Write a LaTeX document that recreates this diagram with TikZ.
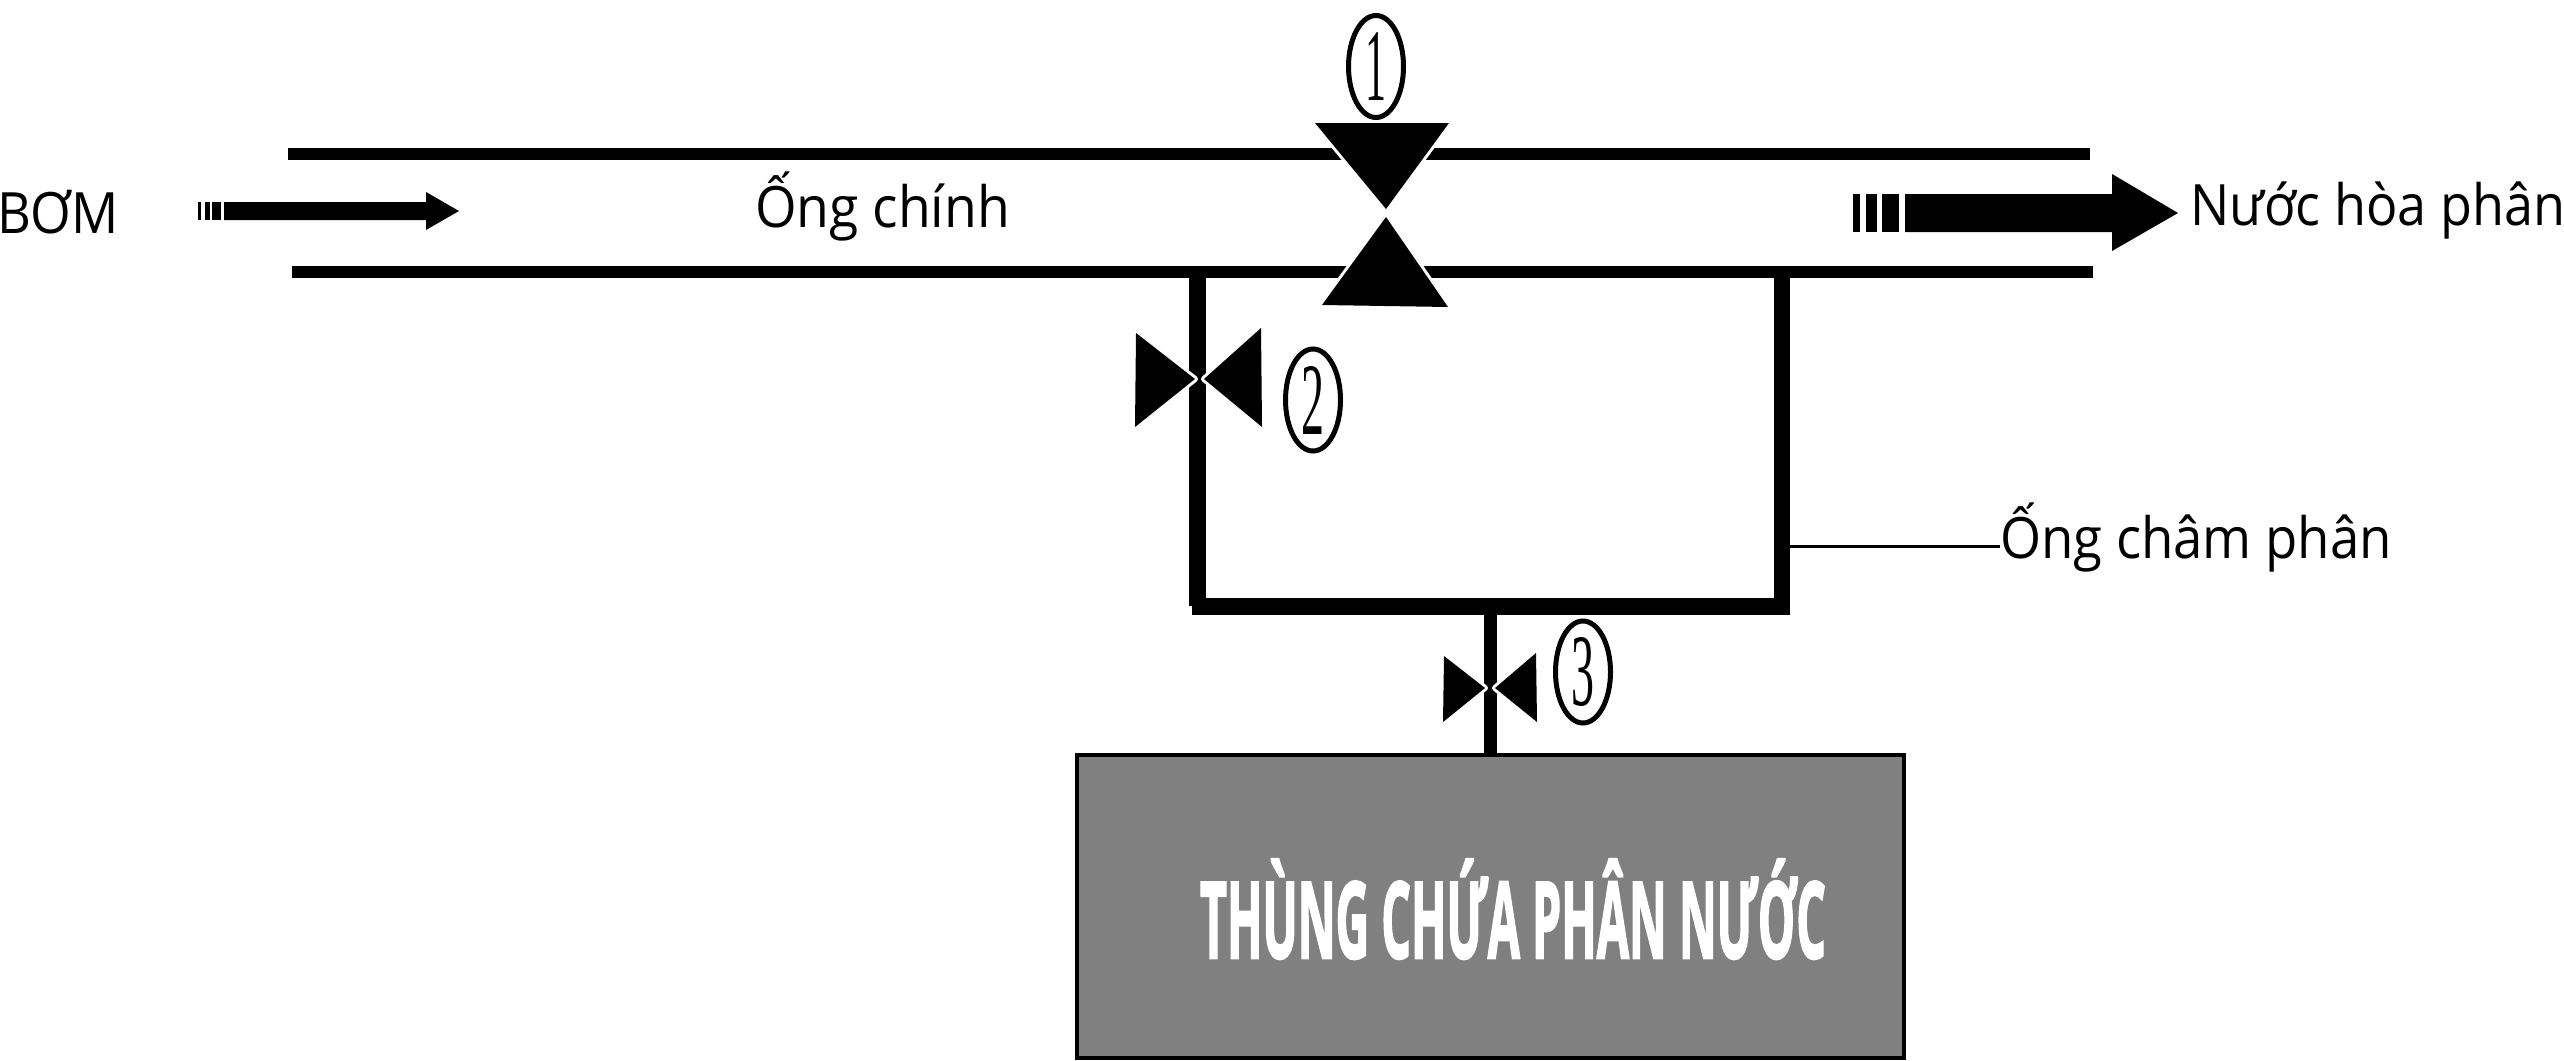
\documentclass[tikz,border=0pt]{standalone}
\usepackage{fontspec}
\usepackage{graphicx}
\setmainfont{Open Sans}
\newfontfamily\digitfont{Liberation Serif}
\newfontfamily\heavyfont[FakeBold=2.5]{Open Sans Bold}
\usetikzlibrary{shapes.geometric}
\definecolor{tankgray}{HTML}{808080}
\newcommand{\fitw}[2]{\resizebox{#1pt}{\height}{#2}}
\newcommand{\dgt}[2]{\resizebox{#1pt}{68pt}{\fontsize{100}{100}\digitfont #2}}
\tikzset{
  mainpipe/.style={line width=12.5pt,line cap=butt},
  branchpipe/.style={line width=17pt,line cap=butt},
  halotri/.style={fill=black,preaction={draw=white,line width=6pt,line join=round}},
  txt/.style={anchor=base west,inner sep=0pt,outer sep=0pt,font=\fontsize{57}{60}\selectfont},
  tanktxt/.style={anchor=base west,inner sep=0pt,outer sep=0pt,text=white,font=\fontsize{106}{110}\heavyfont},
  numoval/.style={shape=ellipse,draw=black,fill=white,line width=5pt,minimum width=55pt,minimum height=102pt,inner sep=0pt,outer sep=0pt},
  tankbox/.style={draw=black,fill=tankgray,line width=4pt,minimum width=827pt,minimum height=303pt,inner sep=0pt,outer sep=0pt,anchor=north west},
}
\begin{document}
\begin{tikzpicture}[x=1pt,y=-1pt]
\useasboundingbox (0,0) rectangle (2564,1060);
% named anchor points
\coordinate (topL) at (288,154);
\coordinate (topR) at (2090,154);
\coordinate (botL) at (292,272);
\coordinate (botR) at (2093,272);
\coordinate (jL) at (1197,272);
\coordinate (jLb) at (1197,606);
\coordinate (jR) at (1782,272);
\coordinate (jRb) at (1782,615);
\coordinate (hL) at (1192,606);
\coordinate (hR) at (1790,606);
\coordinate (stemT) at (1490,606);
\coordinate (leadS) at (1790,546);
% pipes
\draw[mainpipe] (topL) -- (topR);
\draw[mainpipe] (botL) -- (botR);
\draw[line width=17pt] (jL) -- (jLb);
\draw[line width=16pt] (jR) -- (jRb);
\draw[branchpipe] (hL) -- (hR);
% tank
\node[tankbox] (tank) at (1077,755) {};
\draw[line width=13pt] (stemT) -- (stemT |- tank.north);
% valve 1
\path[halotri] (1315,123) -- (1449,123) -- (1386,209) -- cycle;
\path[halotri] (1386,217) -- (1448,307) -- (1322,305) -- cycle;
% valve 2
\path[halotri] (1136,333) -- (1195,379) -- (1135,427) -- cycle;
\path[halotri] (1261,328) -- (1204,379) -- (1262,427) -- cycle;
% valve 3
\path[halotri] (1444,656) -- (1485,688) -- (1443,722) -- cycle;
\path[halotri] (1536,653) -- (1495,688) -- (1537,722) -- cycle;
% numbered ovals
\node[numoval] (n1) at (1376,66.5) {\dgt{21}{1}};
\node[numoval] (n2) at (1313,400) {\dgt{23}{2}};
\node[numoval] (n3) at (1583,672) {\dgt{23}{3}};
% flow arrows
\fill (198,202) rectangle (201,220);
\fill (205,202) rectangle (210,220);
\fill (212,202) rectangle (221,220);
\fill (224,202) -- (426,202) -- (426,192) -- (459,211) -- (426,230) -- (426,220) -- (224,220) -- cycle;
\fill (1853,194) rectangle (1860,232);
\fill (1866,194) rectangle (1877,232);
\fill (1882,194) rectangle (1899,232);
\fill (1905,194) -- (2112,194) -- (2112,174) -- (2178,213) -- (2112,251) -- (2112,232) -- (1905,232) -- cycle;
% texts
\node[txt] (bom) at (-3,233) {\fitw{122}{BƠM}};
\node[txt] (ongchinh) at (755,227) {\fitw{255}{Ống chính}};
\node[txt] (nuoc) at (2190,225) {\fitw{375}{Nước hòa phân}};
\node[txt] (ongcham) at (2000,558) {\fitw{392}{Ống châm phân}};
\node[tanktxt] (tanklbl) at (1200,958) {\fitw{626}{THÙNG CHỨA PHÂN NƯỚC}};
% leader
\draw[line width=3pt] (leadS) -- (leadS -| ongcham.west);
\end{tikzpicture}
\end{document}
